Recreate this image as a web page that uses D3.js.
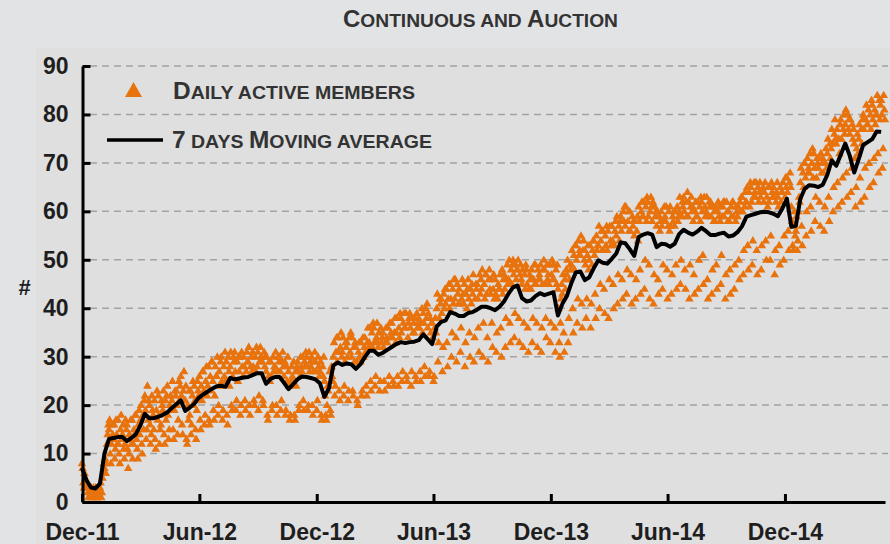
<!DOCTYPE html>
<html>
<head>
<meta charset="utf-8">
<script src="https://cdn.jsdelivr.net/npm/d3@7/dist/d3.min.js"></script>
<style>
  body { margin: 0; background: #e2e3e5; }
  svg { display: block; font-family: "Liberation Sans", Arial, sans-serif; }
</style>
</head>
<body>
<script>
// first point of both series, one value per week after that
var startDate = "2011-12-01";

var yTicks = [0, 10, 20, 30, 40, 50, 60, 70, 80, 90];
var xTickDates = ["2011-12-01", "2012-06-01", "2012-12-01", "2013-06-01", "2013-12-01", "2014-06-01", "2014-12-01"];
var xTickLabels = ["Dec-11", "Jun-12", "Dec-12", "Jun-13", "Dec-13", "Jun-14", "Dec-14"];

// 7 days moving average, one reading per week
var maWeekly = [
  7, 4.5, 3, 2.8, 3.8, 10, 13, 13.2, 13.4, 13.4,
  12.6, 13.2, 14, 15.8, 18.2, 17.3, 17.3, 17.6, 18, 18.5,
  19.4, 20.2, 21, 18.8, 19.5, 20.3, 21.5, 22.2, 22.8, 23.4,
  23.9, 24, 23.8, 25.6, 25.3, 25.5, 25.7, 25.8, 26.2, 26.6,
  26.6, 24.4, 25.4, 25.8, 25.8, 24.6, 23.3, 24.3, 25.3, 25.9,
  25.8, 25.6, 25.3, 24.5, 21.7, 23.5, 28.2, 28.8, 28.3, 28.6,
  28.4, 27.5, 28.4, 29.9, 31.2, 31.2, 30.4, 30.8, 31.4, 32,
  32.6, 33, 32.8, 33, 33.1, 33.4, 34.6, 33.6, 32.6, 36.2,
  37.2, 37.5, 39.2, 38.9, 38.4, 38.4, 39, 39.2, 39.7, 40.3,
  40.3, 40, 39.6, 40.3, 41.4, 43, 44.3, 44.7, 42.1, 41.4,
  41.6, 42.5, 43.1, 42.7, 43, 43.3, 38.5, 40.9, 42.5, 45.2,
  47.4, 47.6, 45.8, 46.4, 48.3, 49.9, 49.4, 49.2, 50.2, 51.3,
  53.6, 53.4, 52.2, 50.8, 54.7, 55.2, 55.5, 55.2, 52.6, 53.3,
  53.2, 52.7, 53.3, 55.3, 56.2, 55.6, 55.2, 55.8, 56.6, 55.9,
  55.1, 55.1, 55.4, 55.6, 54.8, 55, 55.7, 56.9, 58.9, 59.2,
  59.5, 59.8, 59.9, 59.8, 59.5, 59, 60.6, 62.6, 56.8, 57,
  62.6, 64.7, 65.4, 65.3, 65, 65.5, 67.5, 70.5, 69.4, 71.7,
  74, 71.5, 68, 70.8, 73.7, 74.3, 74.9, 76.5, 76.4
];

// daily active members, 7 days per week (Thu..Wed)
var dailyByWeek = [
  "8 7 4 3 6 5 4", "4 3 2 1 3 3 2", "3 2 1 1 3 2 2", "3 2 1 1 2 3 2", "3 4 1 2 5 6 8",
  "7 9 6 8 12 14 16", "15 17 10 8 12 16 14", "13 16 9 11 17 14 12", "17 12 10 8 15 18 13", "14 16 11 9 12 17 15",
  "16 11 7 10 14 13 17", "12 17 9 12 15 14 18", "18 13 11 9 16 19 14", "17 20 12 10 18 15 21", "22 19 13 15 24 17 21",
  "20 16 12 14 22 19 18", "15 21 13 11 19 23 17", "22 18 12 15 16 21 20", "19 23 14 12 21 17 22", "24 18 13 15 20 22 19",
  "21 25 15 13 19 23 22", "23 20 14 17 25 21 24", "26 22 16 14 23 27 21", "21 24 13 12 20 17 23", "18 23 14 16 22 25 20",
  "24 21 15 13 19 25 23", "22 26 17 15 24 21 27", "27 23 16 18 25 28 22", "24 28 17 16 26 23 29", "29 25 19 17 22 28 26",
  "26 30 18 20 27 24 29", "30 25 17 19 28 26 31", "25 29 18 16 30 27 24", "28 31 20 19 26 30 29", "31 27 19 21 29 25 30",
  "27 30 18 20 31 28 26", "30 28 21 19 27 31 29", "29 32 20 18 28 30 27", "31 28 21 20 30 27 32", "28 31 19 22 29 32 30",
  "30 29 21 20 31 28 30", "27 30 18 17 26 29 25", "29 26 19 20 30 27 28", "28 31 20 18 27 30 29", "30 27 19 21 29 31 28",
  "26 29 18 19 28 25 30", "27 24 17 18 25 28 26", "25 29 18 17 27 24 28", "29 27 19 20 26 30 28", "27 30 21 19 29 28 31",
  "30 28 19 20 31 27 29", "28 30 20 18 27 29 31", "29 27 19 21 30 28 26", "27 29 18 17 28 26 30", "25 22 18 17 20 24 23",
  "24 27 19 18 28 26 25", "30 33 22 24 31 34 29", "34 31 23 21 32 35 30", "31 34 22 24 29 33 32", "33 30 21 23 34 31 35",
  "30 34 23 22 32 29 33", "32 29 21 20 31 33 30", "29 33 22 23 34 30 32", "34 31 24 22 33 36 32", "33 36 25 23 35 32 37",
  "36 33 24 26 34 37 33", "32 35 23 25 36 33 34", "35 32 25 23 33 36 34", "33 36 24 26 37 34 35", "37 34 25 24 35 38 33",
  "35 38 26 24 36 34 39", "38 35 25 27 37 39 36", "36 39 26 25 34 37 38", "39 36 24 27 38 35 37", "35 38 26 25 39 36 37",
  "38 36 27 25 37 40 35", "39 37 28 26 40 38 41", "36 39 26 27 38 35 37", "37 34 25 26 36 38 35", "40 43 29 33 38 42 41",
  "42 39 27 32 43 40 44", "41 44 33 28 42 45 40", "45 42 30 35 44 41 46", "42 46 34 29 45 43 41", "44 41 31 36 42 46 43",
  "41 45 28 33 43 40 44", "46 42 35 30 44 41 45", "43 47 29 34 42 45 44", "45 42 36 31 47 43 46", "44 48 30 37 45 42 47",
  "47 43 34 29 46 48 44", "43 46 37 32 44 47 42", "46 43 31 35 42 45 44", "44 47 36 30 48 43 46", "47 44 32 38 46 49 45",
  "46 50 37 33 48 45 49", "50 47 34 39 49 46 48", "48 50 38 33 47 49 46", "45 48 32 37 47 44 49", "48 45 36 31 44 47 46",
  "44 48 33 38 46 49 45", "49 45 37 32 48 46 47", "46 49 31 36 45 48 50", "48 45 38 34 49 46 47", "45 49 33 37 47 50 46",
  "49 46 36 31 48 45 49", "44 40 33 30 37 42 45", "43 47 35 31 46 44 48", "47 50 33 38 46 49 48", "49 52 40 35 51 48 53",
  "53 50 37 42 54 51 52", "51 55 41 36 52 54 50", "52 49 38 42 51 53 48", "50 53 36 41 49 52 54", "54 51 43 38 55 52 53",
  "53 57 40 45 54 56 52", "56 52 44 39 55 53 57", "52 56 38 46 57 54 53", "57 54 45 40 53 56 58", "55 59 41 47 57 54 58",
  "59 56 46 42 60 58 61", "57 61 43 48 58 60 56", "60 56 47 41 59 57 58", "55 58 42 46 56 59 54", "61 58 48 43 60 62 59",
  "59 62 44 50 61 58 63", "62 59 49 42 60 63 61", "58 62 41 47 61 59 60", "57 60 46 43 59 56 58", "60 57 44 49 58 61 59",
  "58 61 48 42 57 60 56", "61 57 43 47 59 58 60", "57 60 49 44 61 58 59", "60 63 45 50 59 62 61", "63 60 48 44 62 59 64",
  "59 62 42 49 61 63 60", "61 58 47 43 60 62 59", "59 62 44 50 61 58 63", "62 60 51 45 63 61 59", "60 63 46 42 59 62 61",
  "62 59 43 48 61 58 60", "58 61 49 44 60 62 59", "61 58 45 51 59 61 62", "59 62 42 47 62 60 58", "60 58 48 43 61 59 62",
  "62 59 44 49 58 61 60", "59 61 50 46 62 60 63", "63 60 47 52 61 64 62", "62 65 53 48 64 61 66", "65 62 49 54 63 66 64",
  "63 66 52 47 65 62 64", "66 63 48 53 64 65 62", "64 66 54 50 63 61 65", "62 65 50 55 66 64 63", "65 63 47 52 62 64 66",
  "63 61 53 49 65 62 64", "64 66 50 55 63 67 65", "67 64 56 52 66 68 65", "61 58 53 52 57 60 55", "56 59 52 54 60 63 62",
  "66 69 57 53 68 65 70", "70 67 55 60 71 68 69", "68 72 61 56 70 73 67", "72 69 58 63 67 71 70", "69 71 62 57 72 68 70",
  "71 68 56 61 70 73 69", "72 75 63 58 74 71 73", "77 74 60 65 76 79 75", "74 77 66 61 75 72 78", "79 75 62 67 77 80 76",
  "78 81 68 63 80 77 79", "76 79 64 69 78 75 77", "74 71 61 65 73 76 72", "75 78 67 62 77 74 79", "80 77 63 69 79 82 78",
  "78 81 70 65 80 77 83", "82 79 66 71 81 78 80", "80 84 72 68 83 79 82", "83 80 69 73 84 81 79"
];

var width = 890, height = 544;
var orange = "#e8720c";

var svg = d3.select("body").append("svg")
  .attr("width", width)
  .attr("height", height);

svg.append("rect").attr("width", width).attr("height", height).attr("fill", "#e2e3e5");
svg.append("rect").attr("x", 36).attr("y", 48).attr("width", width - 36).attr("height", height - 48).attr("fill", "#dfdfdf");

var parse = d3.utcParse("%Y-%m-%d");
var t0 = parse(startDate);

var x = d3.scaleUtc()
  .domain([t0, parse("2015-05-06")])
  .range([82, 885]);

var y = d3.scaleLinear()
  .domain([0, 90])
  .range([502, 66]);

// weekly MA points
var maData = maWeekly.map(function(v, i) {
  return { date: d3.utcDay.offset(t0, 7 * i), value: v };
});

// daily points, week i, day d
var dailyData = [];
dailyByWeek.forEach(function(s, i) {
  s.split(" ").forEach(function(v, d) {
    dailyData.push({ date: d3.utcDay.offset(t0, 7 * i + d), value: +v });
  });
});

// gridlines
svg.append("g")
  .selectAll("line")
  .data(yTicks.filter(function(d) { return d > 0; }))
  .enter()
  .append("line")
  .attr("x1", 90)
  .attr("x2", 888)
  .attr("y1", function(d) { return y(d); })
  .attr("y2", function(d) { return y(d); })
  .attr("stroke", "#a3a3a3")
  .attr("stroke-width", 1.5)
  .attr("stroke-dasharray", "7,5");

var tri = "M0,-4.4L4.3,3L-4.3,3Z";

svg.append("g")
  .selectAll("path")
  .data(dailyData)
  .enter()
  .append("path")
  .attr("d", tri)
  .attr("transform", function(d) { return "translate(" + x(d.date) + "," + y(d.value) + ")"; })
  .attr("fill", orange);

var line = d3.line()
  .x(function(d) { return x(d.date); })
  .y(function(d) { return y(d.value); });

svg.append("path")
  .datum(maData)
  .attr("d", line)
  .attr("fill", "none")
  .attr("stroke", "#000")
  .attr("stroke-width", 4)
  .attr("stroke-linejoin", "round");

// axes
var yAxis = d3.axisLeft(y)
  .tickValues(yTicks)
  .tickSizeInner(-8)
  .tickSizeOuter(0)
  .tickPadding(14);

var xAxis = d3.axisBottom(x)
  .tickValues(xTickDates.map(parse))
  .tickFormat(function(d, i) { return xTickLabels[i]; })
  .tickSizeInner(-8)
  .tickSizeOuter(0)
  .tickPadding(22);

function styleAxis(g) {
  g.select(".domain").attr("stroke", "#000").attr("stroke-width", 3);
  g.selectAll(".tick line").attr("stroke", "#000").attr("stroke-width", 3);
  g.selectAll(".tick text")
    .attr("fill", "#1e1e1e")
    .attr("font-size", 23)
    .attr("font-weight", "bold")
    .attr("font-family", "Liberation Sans, Arial, sans-serif");
}

svg.append("g")
  .attr("transform", "translate(82.5,0)")
  .call(yAxis)
  .call(styleAxis);

svg.append("g")
  .attr("transform", "translate(0,502)")
  .call(xAxis)
  .call(styleAxis);

svg.append("text")
  .attr("x", 24.5)
  .attr("y", 295)
  .attr("text-anchor", "middle")
  .attr("font-size", 22)
  .attr("font-weight", "bold")
  .attr("fill", "#1e1e1e")
  .text("#");

// small caps text made of tspans
function smallCaps(sel, str, big, small) {
  str.match(/[A-Z0-9]+|[^A-Z0-9]+/g).forEach(function(r) {
    var isBig = /[A-Z0-9]/.test(r[0]);
    sel.append("tspan")
      .attr("font-size", isBig ? big : small)
      .text(isBig ? r : r.toUpperCase());
  });
  return sel;
}

var title = svg.append("text")
  .attr("x", 343)
  .attr("y", 27)
  .attr("font-weight", "bold")
  .attr("fill", "#333")
  .attr("textLength", 275)
  .attr("lengthAdjust", "spacingAndGlyphs");
smallCaps(title, "Continuous and Auction", 23, 18.4);

// legend
svg.append("path")
  .attr("d", "M0,-8L8.5,7L-8.5,7Z")
  .attr("transform", "translate(133.5,90)")
  .attr("fill", orange);

var leg1 = svg.append("text")
  .attr("x", 173)
  .attr("y", 99)
  .attr("font-weight", "bold")
  .attr("fill", "#333")
  .attr("textLength", 242)
  .attr("lengthAdjust", "spacingAndGlyphs");
smallCaps(leg1, "Daily active members", 23, 18.4);

svg.append("line")
  .attr("x1", 107).attr("x2", 163)
  .attr("y1", 140).attr("y2", 140)
  .attr("stroke", "#000")
  .attr("stroke-width", 3.5);

var leg2 = svg.append("text")
  .attr("x", 172)
  .attr("y", 148)
  .attr("font-weight", "bold")
  .attr("fill", "#333")
  .attr("textLength", 260)
  .attr("lengthAdjust", "spacingAndGlyphs");
smallCaps(leg2, "7 days Moving average", 23, 18.4);
</script>
</body>
</html>
